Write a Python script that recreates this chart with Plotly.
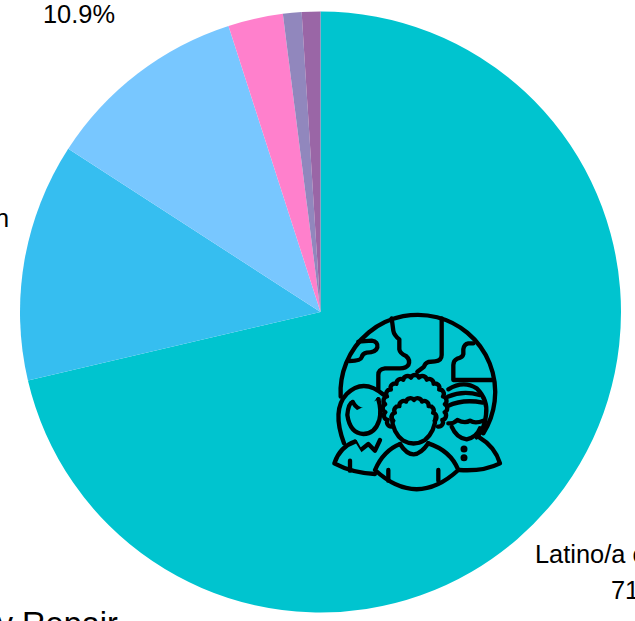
import base64
import numpy as np
import plotly.graph_objects as go

# Slice values, clockwise from 12 o'clock
labels = ['Latino/a or Hispanic', 'n', '', '', '', '']
values = [71.3, 12.8, 10.9, 2.95, 1.0, 1.0]
colors = ['#00c4cf', '#36bef0', '#78c7ff', '#ff80cc', '#9187bd', '#9a66a6']

W, H = 635, 621


def scallop(cx, cy, r, a0, a1, n):
    # bumpy hair outline made of small arcs
    angles = np.radians(np.linspace(a0, a1, n + 1))
    pts = [(cx + r * np.cos(a), cy + r * np.sin(a)) for a in angles]
    bump = r * (angles[1] - angles[0]) * 0.55
    d = f'M{pts[0][0]:.1f},{pts[0][1]:.1f}'
    for x, y in pts[1:]:
        d += f' A{bump:.1f},{bump:.1f} 0 0 1 {x:.1f},{y:.1f}'
    return d


# Icon drawn in a 600x600 box (zoomed reference coordinates)
globe = [
    'M62,290 A232,232 0 1 1 490,400',
    'M115,125 L155,122 Q175,125 172,142 Q168,157 140,158 Q128,160 125,172 Q122,183 88,183',
    'M215,55 L220,92 Q222,105 238,118 L238,148 Q240,160 258,168 Q272,180 265,195 Q258,205 240,205 '
    'L195,205 Q175,207 175,225 L175,268',
    'M365,55 L365,165 Q365,182 345,184 L325,186 Q315,190 312,200 L292,215',
    'M460,130 L445,130 Q432,132 430,148 L430,162 Q428,172 412,176 Q400,182 400,195 L400,240 L520,240',
]
left_p = [
    'M72,430 Q35,330 80,282 Q130,232 192,285',
    'M98,306 Q115,335 140,328 Q160,322 175,298',
    'M82,345 Q85,310 98,306 M175,298 Q185,330 178,360 Q165,402 130,402 Q90,400 82,345',
    'M105,425 L120,452 L145,432 L165,452 L180,420',
    'M105,425 Q60,440 43,490 Q95,518 165,522',
    'M90,482 L90,512',
]
right_p = [
    'M385,268 Q430,240 470,265 Q505,300 498,345 Q495,385 470,412',
    'M383,290 Q430,270 478,285 M383,318 Q430,296 488,308',
    'M385,370 Q400,372 412,360 Q435,372 450,362 Q465,372 490,362',
    'M395,380 Q410,415 440,418 Q470,412 480,385',
    'M478,412 Q525,440 540,490 Q490,515 418,510',
]
center_p = [
    'M240,432 Q190,452 165,510 Q290,625 415,510 Q392,452 325,430',
    'M240,432 Q280,495 325,430',
    'M205,510 L205,542 M355,510 L355,542',
    'M215,350 Q218,400 250,422 Q282,440 315,420 Q345,395 347,350',
]
center_hair = [
    scallop(285, 322, 90, 140, 400, 17),
    scallop(282, 362, 62, 180, 360, 8),
]


def group(paths, fill='none'):
    return ''.join(f'<path d="{d}" fill="{fill}"/>' for d in paths)


svg = (
    '<svg xmlns="http://www.w3.org/2000/svg" viewBox="0 0 600 600">'
    '<g stroke="#000" stroke-width="13" stroke-linecap="round" stroke-linejoin="round">'
    + group(globe)
    + group(left_p, '#00c4cf')
    + group(right_p, '#00c4cf')
    + group(center_p[:1], '#00c4cf')
    + group(center_hair[:1], '#00c4cf')
    + group(center_hair[1:], 'none')
    + group(center_p[1:])
    + '<circle cx="432" cy="447" r="4"/><circle cx="432" cy="473" r="4"/>'
    '</g></svg>'
)
icon = 'data:image/svg+xml;base64,' + base64.b64encode(svg.encode()).decode()

fig = go.Figure(go.Pie(
    labels=labels,
    values=values,
    sort=False,
    direction='clockwise',
    rotation=0,
    textinfo='none',
    hoverinfo='skip',
    marker=dict(colors=colors, line=dict(width=0)),
    domain=dict(x=[20 / W, 621 / W], y=[8.5 / H, 609.5 / H]),
))


def note(text, x, y, anchor='center', size=25.4):
    fig.add_annotation(text=text, xref='paper', yref='paper', x=x / W, y=1 - y / H,
                       xanchor=anchor, yanchor='middle', showarrow=False,
                       font=dict(size=size, color='#000'))


note(labels[0], 647, 554)
note(f'{values[0]}%', 647, 590)
note(f'{values[2]}%', 79, 14)
note(labels[1], 11, 218, anchor='right')
note('Body Repair', 120, 624, anchor='right', size=32.5)

fig.add_layout_image(source=icon, xref='paper', yref='paper', x=320 / W, y=1 - 300 / H,
                     sizex=200 / W, sizey=200 / H, xanchor='left', yanchor='top',
                     sizing='stretch', layer='above')

fig.update_layout(
    width=W, height=H,
    margin=dict(l=0, r=0, t=0, b=0),
    showlegend=False,
    paper_bgcolor='white',
    font=dict(family='Liberation Sans'),
)
fig.write_html('out.html', config=dict(displayModeBar=False),
               post_script="document.body.style.margin='0';document.body.style.overflow='hidden';")
